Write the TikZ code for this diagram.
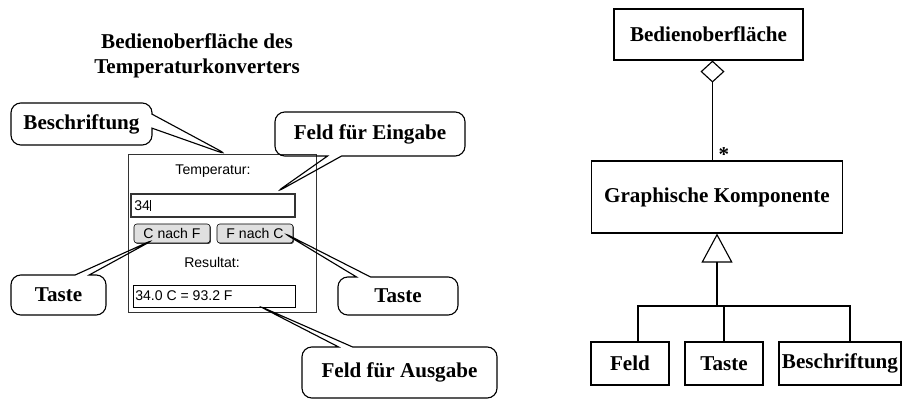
\documentclass[tikz,border=0pt]{standalone}
\usepackage{fontspec}
\setmainfont{Liberation Serif}
\newfontfamily\guifont{Liberation Sans}
\usetikzlibrary{shapes.callouts}
\usetikzlibrary{arrows.meta}
\usetikzlibrary{shadows}

\tikzset{
  bold/.style={font=\fontsize{15}{18}\selectfont\bfseries},
  umlbox/.style={draw,line width=0.8pt,inner sep=0pt,bold},
  callbox/.style={rectangle callout,draw,line width=0.8pt,rounded corners=7pt,callout pointer width=0.35cm,inner sep=0pt,bold},
  guitext/.style={font=\guifont\fontsize{10}{12}\selectfont,inner sep=0pt},
  gbutton/.style={draw,rounded corners=2pt,fill=black!12,general shadow={fill=black!75,shadow xshift=0.7pt,shadow yshift=-0.7pt},minimum width=1.9cm,minimum height=0.475cm,guitext}
}

\begin{document}
\begin{tikzpicture}[x=0.025cm,y=-0.025cm]
\useasboundingbox (0,0) rectangle (904,401);
\node[bold,align=center] (title) at (197,56) {Bedienoberfläche des\\Temperaturkonverters};

\node[draw=black!80,line width=0.6pt,minimum width=4.7cm,minimum height=3.95cm] (window) at (222,233) {};
\node[guitext] (templabel) at (213,171) {Temperatur:};
\node[draw=black!80,line width=1.8pt,minimum width=4.1cm,minimum height=0.575cm] (input) at (213,205.5) {};
\node[guitext,anchor=west] (inval) at (134,205.5) {34};
\draw[line width=0.5pt] (inval.north east) -- (inval.south east);
\node[gbutton] (btnCF) at (172,233.5) {C nach F};
\node[gbutton] (btnFC) at (255,233.5) {F nach C};
\node[guitext] (reslabel) at (212,262) {Resultat:};
\node[draw,line width=0.6pt,minimum width=4.05cm,minimum height=0.55cm] (output) at (214,296) {};
\node[guitext,anchor=west] (outval) at (135,296) {34.0 C = 93.2 F};

\coordinate (pBeschr) at (228,155);
\coordinate (pEingabe) at (275,193);
\coordinate (pTasteL) at (155,239);
\coordinate (pTasteR) at (282,232);
\coordinate (pAusgabe) at (257,305);
\node[callbox,minimum width=3.525cm,minimum height=1.05cm,callout absolute pointer=(pBeschr)] (cBeschr) at (81.5,124) {Beschriftung};
\node[callbox,minimum width=4.75cm,minimum height=1.1cm,callout absolute pointer=(pEingabe)] (cEingabe) at (370,134) {Feld für Eingabe};
\node[callbox,minimum width=2.375cm,minimum height=1cm,callout absolute pointer=(pTasteL)] (cTasteL) at (58.5,295) {Taste};
\node[callbox,minimum width=3cm,minimum height=0.95cm,callout absolute pointer=(pTasteR)] (cTasteR) at (398,296) {Taste};
\node[callbox,minimum width=4.875cm,minimum height=1.275cm,callout absolute pointer=(pAusgabe)] (cAusgabe) at (399.5,372.5) {Feld für Ausgabe};

\node[umlbox,minimum width=4.725cm,minimum height=1.275cm] (ui) at (708.5,34.5) {Bedienoberfläche};
\node[umlbox,minimum width=6.275cm,minimum height=1.8cm] (komp) at (717,197) {Graphische Komponente};
\node[umlbox,minimum width=1.95cm,minimum height=1.075cm] (feld) at (630,363.5) {Feld};
\node[umlbox,minimum width=1.95cm,minimum height=1.075cm] (taste) at (724,363.5) {Taste};
\node[umlbox,minimum width=3.05cm,minimum height=1.075cm] (beschr) at (840,363.5) {Beschriftung};

\coordinate (aggTop) at ([xshift=0.1cm]ui.south);
\draw[line width=0.8pt,{Diamond[open,length=0.55cm,width=0.6cm]}-] (aggTop) -- (aggTop |- komp.north);
\node[bold,inner sep=0pt] (mult) at (724,155) {*};

\coordinate (hub) at (717,306);
\draw[line width=0.8pt,-{Triangle[open,length=0.725cm,width=0.775cm]}] (hub) -- (komp.south);
\draw[line width=0.8pt] ([xshift=0.2cm]feld.north) |- (hub);
\draw[line width=0.8pt] (hub) -| ([xshift=0.25cm]beschr.north);
\draw[line width=0.8pt] (taste.north) -- (taste.north |- hub);

\end{tikzpicture}
\end{document}
